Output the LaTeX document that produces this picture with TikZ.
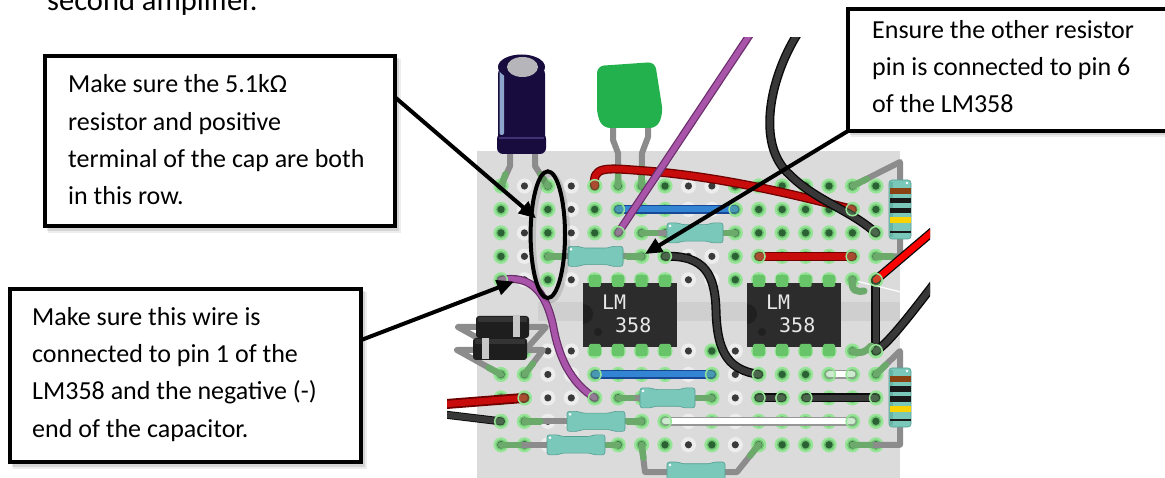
\documentclass[tikz,border=0pt]{standalone}
\usepackage{fontspec}
\setmainfont{Carlito}
\newfontfamily\chipfont{DejaVu Sans Mono}
\usetikzlibrary{arrows.meta,shapes.geometric}

\definecolor{boardgray}{RGB}{219,219,219}
\definecolor{bandgray}{RGB}{207,207,207}
\definecolor{holering}{RGB}{237,237,237}
\definecolor{holedark}{RGB}{58,58,58}
\definecolor{gring}{RGB}{150,228,150}
\definecolor{gmid}{RGB}{112,196,116}
\definecolor{gdark}{RGB}{42,98,52}
\definecolor{leadgray}{RGB}{140,140,140}
\definecolor{leadgreen}{RGB}{108,170,108}
\definecolor{resteal}{RGB}{122,200,186}
\definecolor{restealdark}{RGB}{84,158,146}
\definecolor{bandbrown}{RGB}{138,66,18}
\definecolor{bandyellow}{RGB}{250,210,0}
\definecolor{wredc}{RGB}{200,12,12}
\definecolor{wredo}{RGB}{110,0,0}
\definecolor{wbluec}{RGB}{52,132,212}
\definecolor{wblueo}{RGB}{22,72,150}
\definecolor{wpurc}{RGB}{168,84,168}
\definecolor{wpuro}{RGB}{104,44,104}
\definecolor{wblkc}{RGB}{56,56,56}
\definecolor{wblko}{RGB}{10,10,10}
\definecolor{wwhto}{RGB}{150,150,150}
\definecolor{brightred}{RGB}{255,0,0}
\definecolor{chipbody}{RGB}{44,44,44}
\definecolor{chipnotch}{RGB}{32,32,32}
\definecolor{chippin}{RGB}{104,196,104}
\definecolor{chiptext}{RGB}{232,232,232}
\definecolor{capnavy}{RGB}{24,12,62}
\definecolor{capband}{RGB}{62,50,116}
\definecolor{capsilver}{RGB}{182,182,186}
\definecolor{caphl}{RGB}{170,205,240}
\definecolor{capgreen}{RGB}{34,177,76}
\definecolor{diodebody}{RGB}{30,30,30}
\definecolor{diodeband}{RGB}{200,200,200}

\tikzset{
  wire/.style={line cap=round, line join=round},
  wred/.style={wire, draw=wredo, line width=9, postaction={draw=wredc, line width=6.4}},
  wblue/.style={wire, draw=wblueo, line width=8.5, postaction={draw=wbluec, line width=6}},
  wpurple/.style={wire, draw=wpuro, line width=8, postaction={draw=wpurc, line width=5.6}},
  wblack/.style={wire, draw=wblko, line width=9, postaction={draw=wblkc, line width=6.2}},
  wwhite/.style={wire, draw=wwhto, line width=8.5, postaction={draw=white, line width=6}},
  wbright/.style={wire, draw=wblko, line width=9, postaction={draw=brightred, line width=6.4}},
  lead/.style={draw=leadgray, line width=6, line cap=round, line join=round},
  leadtip/.style={draw=leadgreen, line width=6.4, line cap=round},
  callbox/.style={rectangle, draw=black, fill=white, line width=4, inner sep=0pt, outer sep=0pt},
  note/.style={anchor=base west, inner sep=0pt, align=left, font=\fontsize{26}{37.1}\selectfont},
  callarrow/.style={draw=black, line width=4, -{Triangle[length=17pt,width=15pt]}},
  callshade/.style={draw=black, draw opacity=.12, line width=5},
  ghole/.pic={\fill[gring] (0,0) circle (7.6); \fill[gmid] (0,0) circle (5.4); \fill[gdark] (0,0) circle (3.7);},
  dhole/.pic={\fill[holering] (0,0) circle (7.6); \fill[holedark] (0,0) circle (3.6);},
  wend/.pic={\draw[draw=gring, line width=1.5, fill=gmid, fill opacity=.35] (0,0) circle (6.3);},
  chip/.pic={
    \fill[chipbody] (0,0) rectangle (94,64);
    \begin{scope}
      \clip (0,0) rectangle (94,64);
      \fill[chipnotch] (0,31) circle (10);
    \end{scope}
    \fill[chipnotch] (15,49) circle (4);
    \foreach \px in {11.8,35.2,58.6,82.1} {
      \fill[chippin, rounded corners=1.5] ({\px-6},-8) rectangle ({\px+6},4);
      \fill[chippin, rounded corners=1.5] ({\px-6},61) rectangle ({\px+6},73);
    }
    \node[anchor=base west, inner sep=0pt, text=chiptext, font=\chipfont\fontsize{20}{20}\selectfont] (lm) at (19,27) {LM};
    \node[anchor=base west, inner sep=0pt, text=chiptext, font=\chipfont\fontsize{20}{20}\selectfont] (num) at (32,50) {358};
  }
}

% horizontal resistor body: left x, right x, centre y
\newcommand\hresbody[3]{%
  \fill[resteal, draw=restealdark, line width=.6, rounded corners=2.5]
    (#1,#3-10) -- ({#1+11},#3-10) -- ({#1+15},#3-8.3) -- ({#2-15},#3-8.3) -- ({#2-11},#3-10) -- (#2,#3-10)
    -- (#2,#3+10) -- ({#2-11},#3+10) -- ({#2-15},#3+8.3) -- ({#1+15},#3+8.3) -- ({#1+11},#3+10) -- (#1,#3+10) -- cycle;
  \fill[white] ({#1+3},#3-7) circle (1.4);
}
% vertical resistor body with colour bands: top y
\newcommand\vresbody[1]{%
  \fill[resteal, draw=restealdark, line width=.6, rounded corners=3] (889,#1) rectangle (911,{#1+59});
  \fill[restealdark, opacity=.5] (889.5,{#1+2}) rectangle (893,{#1+57});
  \fill[bandbrown] (889.5,{#1+8}) rectangle (910.5,{#1+14});
  \fill[black!90] (889.5,{#1+18}) rectangle (910.5,{#1+23.5});
  \fill[black!90] (889.5,{#1+28}) rectangle (910.5,{#1+33.5});
  \fill[bandyellow] (889.5,{#1+37.5}) rectangle (910.5,{#1+43.5});
  \fill[black!90] (889.5,{#1+51}) rectangle (910.5,{#1+53});
  \fill[white] (907,{#1+3}) circle (1.4);
}

\begin{document}
\begin{tikzpicture}[x=1pt,y=-1pt]
\useasboundingbox (0,0) rectangle (1165,478);
\clip (0,0) rectangle (1165,478);
\fill[white] (0,0) rectangle (1165,478);

\node[anchor=base west, inner sep=0pt, font=\fontsize{30.5}{36}\selectfont] (heading) at (47,11) {second amplifier.};

% hole grid: columns 0..16, rows 0..4 above the channel, 5..9 below
\foreach \c in {0,...,16}{
  \foreach \r in {0,...,9}{
    \pgfmathsetmacro\hy{\r<5 ? 186+23.45*\r : 351+23.45*(\r-5)}
    \coordinate (h\c-\r) at ({501+23.43*\c},\hy);
  }
}

\begin{scope}
\clip (447,38) rectangle (930,478);

% board
\fill[boardgray] (477,151) rectangle (900,480);
\fill[bandgray] (538,302) rectangle (900,321);

% holes
\foreach \c in {0,2,4,5,6,7,10,11,12,13,14,15,16}
  \foreach \r in {0,...,4} \pic at (h\c-\r) {ghole};
\foreach \c in {1,3,8,9}
  \foreach \r in {0,...,4} \pic at (h\c-\r) {dhole};
\foreach \c in {0,1,4,5,6,7,9,11,12,13,14,15,16}
  \foreach \r in {5,...,9} \pic at (h\c-\r) {ghole};
\foreach \c in {2,3,8,10}
  \foreach \r in {5,...,9} \pic at (h\c-\r) {dhole};

% electrolytic capacitor
\draw[lead] (510,146) -- (510,166) -- (h0-0);
\draw[lead] (535,146) -- (535,166) -- (h2-0);
\draw[leadtip] (h0-0) -- (505.5,174);
\draw[leadtip] (h2-0) -- (540.5,174.5);
\fill[capnavy, rounded corners=7] (498,67) rectangle (545,152);
\fill[capnavy, rounded corners=6] (497,133) rectangle (546,154);
\fill[capband] (499,137) rectangle (544,139.5);
\fill[caphl, opacity=.8, rounded corners=2] (499.5,70) rectangle (504,135);
\fill[capnavy] (521.5,67) ellipse (23.5 and 12.5);
\fill[capsilver] (522.5,67) ellipse (15.5 and 10);

% ceramic capacitor
\draw[lead] (613,124) -- (613,140) -- (618,153) -- (h5-0);
\draw[lead] (648,124) -- (648,137) -- (642,153) -- (h6-0);
\draw[leadtip] (h5-0) -- (618,168);
\draw[leadtip] (h6-0) -- (641.6,168);
\fill[capgreen, rounded corners=7] (597,66) -- (655,62) -- (663,113) -- (657,128) -- (603,128) -- (597,115) -- cycle;

% resistor leads
\draw[lead] (h2-3) -- (h6-3);
\draw[lead] (h6-2) -- (h10-2);
\draw[lead] (h5-7) -- (h9-7);
\draw[lead] (h1-8) -- (h6-8);
\draw[lead] (h0-9) -- (h5-9);
\draw[lead] (h6-9) -- (645,472) -- (737,472) -- (h11-9);
\draw[lead] (h15-0) -- (900,162) -- (900,240) -- (900,256.35) -- (h16-3);
\draw[lead] (h16-6) -- (900,351) -- (900,430) -- (900,444.8) -- (h15-9);
\draw[leadtip] (h2-3) -- ++(14,0);
\draw[leadtip] (h6-3) -- ++(-14,0);
\draw[leadtip] (h6-2) -- ++(14,0);
\draw[leadtip] (h10-2) -- ++(-12,0);
\draw[leadtip] (h5-7) -- ++(14,0);
\draw[leadtip] (h9-7) -- ++(-14,0);
\draw[leadtip] (h1-8) -- ++(16,0);
\draw[leadtip] (h6-8) -- ++(-14,0);
\draw[leadtip] (h0-9) -- ++(18,0);
\draw[leadtip] (h5-9) -- ++(-14,0);
\draw[leadtip] (h6-9) -- (643.5,458);
\draw[leadtip] (h11-9) -- (750,455.7);
\draw[leadtip] (h15-0) -- (867,179);
\draw[leadtip] (h16-3) -- ++(16,0);
\draw[leadtip] (h16-6) -- (886,364.7);
\draw[leadtip] (h15-9) -- ++(18,0);

% resistor bodies
\hresbody{568}{623}{256.35}
\hresbody{667}{723}{232.9}
\hresbody{640}{695}{397.9}
\hresbody{567}{625}{421.35}
\hresbody{547}{605}{444.8}
\hresbody{667}{725}{472}
\vresbody{180}
\vresbody{368}

% diodes
\draw[lead] (h0-5) -- (458,327) -- (480,327);
\draw[lead] (525,327) -- (546,327) -- (h1-5);
\draw[lead] (h0-6) -- (457,350) -- (477,350);
\draw[lead] (523,350) -- (543,350) -- (h1-6);
\draw[leadtip] (h0-6) -- ++(-12.3,-6.7);
\draw[leadtip] (h1-6) -- ++(8.6,-11);
\fill[diodebody, rounded corners=3] (476,316) rectangle (529,338);
\fill[white, opacity=.10] (478,317.5) rectangle (527,322);
\fill[diodeband] (513,316.5) rectangle (520,337.5);
\fill[diodebody, rounded corners=3] (473,338) rectangle (527,360);
\fill[white, opacity=.10] (475,339.5) rectangle (525,344);
\fill[diodeband] (482,338.5) rectangle (489,359.5);

% op-amp chips
\pic (ic1) at (583,283) {chip};
\pic (ic2) at (747,283) {chip};

% jumper wires
\draw[wblue] (h5-1) -- (h10-1);
\draw[wred] (h11-3) -- (h15-3);
\draw[wblue] (h4-6) -- (h9-6);
\draw[wwhite] (h7-8) -- (h15-8);
\draw[wwhite] (h14-6) -- (h15-6);
\draw[wblack] (h11-7) -- (h12-7);
\draw[wblack] (h13-7) -- (h16-7);
\draw[wblack] (h16-4) -- (h16-5);
\draw[wred] (h4-0) .. controls (592,166) and (606,168) .. (640,170.5) .. controls (720,176) and (800,196) .. (h15-1);
\draw[wblack] (h7-3) .. controls (705,255) and (715,275) .. (716,310) .. controls (717,355) and (730,370) .. (h11-6);
\draw[wpurple] (h0-4) .. controls (530,275) and (545,290) .. (553,325) .. controls (560,365) and (575,385) .. (h4-7);
\coordinate (redin) at (440,404.5);
\coordinate (blackin) at (440,414);
\draw[wred, line width=10, postaction={line width=7.2}] (redin) -- (h1-7);
\draw[wblack, line width=8, postaction={line width=5.4}] (blackin) -- (h0-8);
\coordinate (redout) at (945,221);
\coordinate (blackout) at (940,276);
\draw[wbright] (h16-4) -- (redout);
\draw[wblack] (h16-5) .. controls (888,343) and (905,322) .. (blackout);
\draw[white, line width=1.2] (858,281.5) -- (905,293);
\draw[leadgreen, line width=7, line cap=round] (h15-4) .. controls (851,291) and (856,292) .. (864,291);
\draw[leadgreen, line width=7, line cap=round] (h15-5) .. controls (858,355) and (866,352) .. (871,346);
\coordinate (blacktop) at (800,30);
\draw[wblack] (blacktop) .. controls (770,75) and (755,145) .. (790,175) .. controls (815,200) and (850,210) .. (h16-2);
\coordinate (purpletop) at (753,30);
\draw[wpurple] (h5-2) -- (purpletop);

% wire ends sitting in holes
\foreach \e in {h4-0,h15-1,h5-1,h10-1,h11-3,h15-3,h16-2,h5-2,h7-3,h11-6,h0-4,h4-7,h4-6,h9-6,h7-8,h15-8,h14-6,h15-6,h11-7,h12-7,h13-7,h16-7,h16-4,h16-5,h1-7,h0-8}
  \pic at (\e) {wend};
\end{scope}

% callout marking the capacitor row
\draw[callshade] (550.5,237.5) ellipse (17.2 and 63.3);
\node[ellipse, draw=black, line width=4, minimum width=34.4, minimum height=126.7, inner sep=0pt] (ring) at (547.8,234.7) {};

% callout boxes (text nodes are placed by the baseline of their last line)
\fill[black, opacity=.10] (47,58) rectangle (398.7,230.8);
\fill[black, opacity=.07] (48,59) rectangle (400.7,232.8);
\node[callbox, anchor=north west, minimum width=349.7, minimum height=170.3] (box1) at (45,56) {};
\node[note] (text1) at (68,204.3) {Make sure the 5.1kΩ\\resistor and positive\\terminal of the cap are both\\in this row.};

\fill[black, opacity=.10] (12.3,290.7) rectangle (365.3,466.5);
\fill[black, opacity=.07] (13.3,291.7) rectangle (367.3,468.5);
\node[callbox, anchor=north west, minimum width=351, minimum height=173.3] (box2) at (10.3,288.7) {};
\node[note] (text2) at (32,437) {Make sure this wire is\\connected to pin 1 of the\\LM358 and the negative (-)\\end of the capacitor.};

\fill[black, opacity=.10] (850.3,11.2) rectangle (1184,135.3);
\fill[black, opacity=.07] (851.3,12.2) rectangle (1186,137.3);
\node[callbox, anchor=north west, minimum width=331.7, minimum height=121.6] (box3) at (848.3,9.2) {};
\node[note] (text3) at (872,112.7) {Ensure the other resistor\\pin is connected to pin 6\\of the LM358};

% pointers
\coordinate (p1s) at (394.7,97);
\coordinate (p1e) at (536,218.3);
\coordinate (p2s) at (361.3,340);
\coordinate (p2e) at (514,281.5);
\coordinate (p3s) at (848.3,130.8);
\coordinate (p3e) at (645,254);
\draw[callarrow] (p1s) -- (p1e);
\draw[callarrow] (p2s) -- (p2e);
\draw[callarrow] (p3s) -- (p3e);
\end{tikzpicture}
\end{document}
